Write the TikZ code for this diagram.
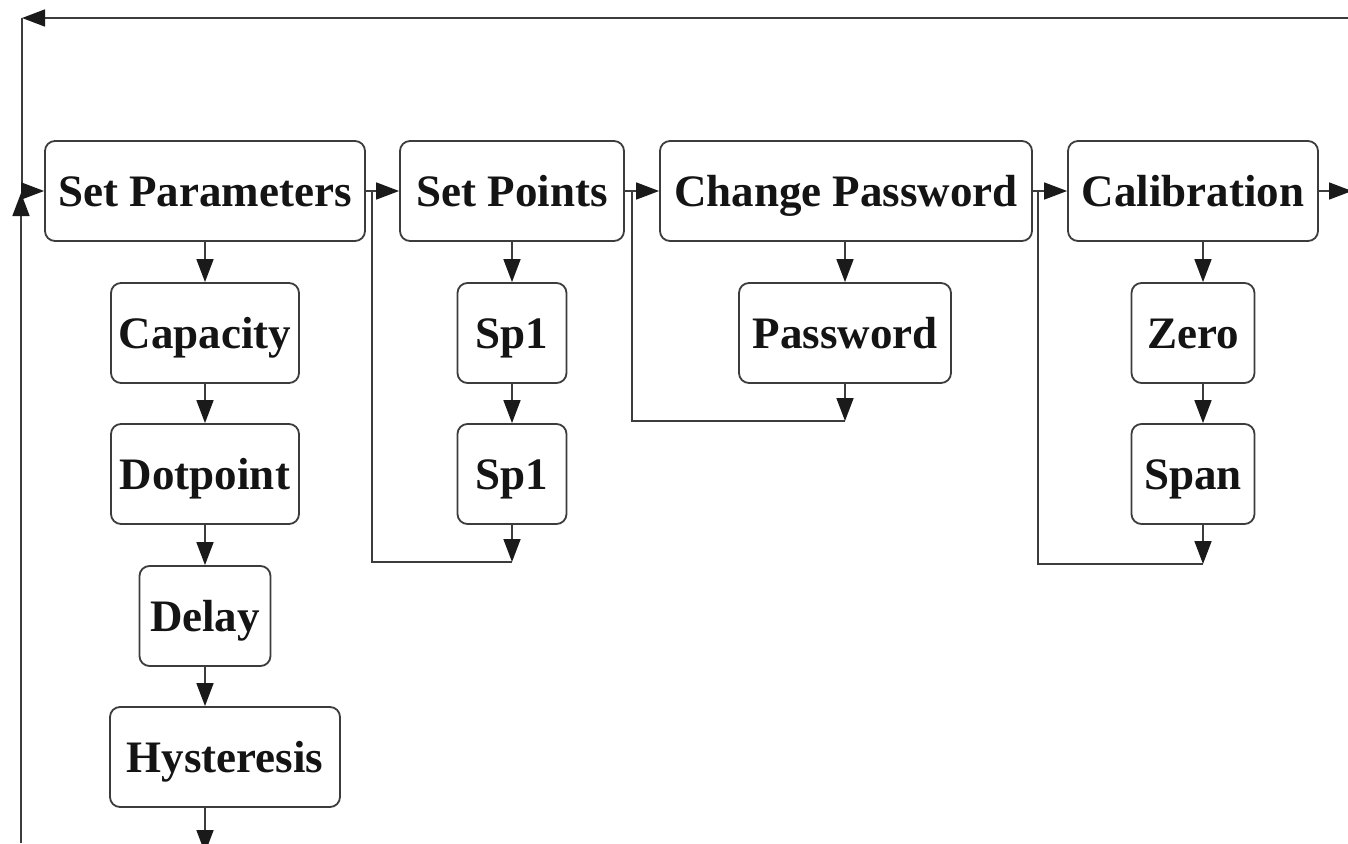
\documentclass[tikz,border=0pt]{standalone}
\usepackage{fontspec}
\setmainfont{Liberation Serif}
\usetikzlibrary{arrows.meta}
\definecolor{lncol}{HTML}{3C3C3C}
\definecolor{txcol}{HTML}{141414}
\definecolor{tipcol}{HTML}{1A1A1A}
\tikzset{
  box/.style={draw=lncol, line width=1.8pt, rounded corners=10pt, inner sep=0pt,
    text height=30pt, text depth=0pt, text=txcol,
    font=\fontsize{45pt}{54pt}\selectfont\bfseries, minimum height=100pt},
  wire/.style={draw=lncol, line width=1.6pt},
  arr/.style={wire, -{Triangle[length=23pt,width=17pt,color=tipcol]}},
}
\begin{document}
\begin{tikzpicture}[x=1pt,y=-1pt]
\fill[white] (0,0) rectangle (1348,843);
\useasboundingbox (0,0) rectangle (1348,843);
\clip (0,0) rectangle (1348,843);

% top row
\node[box, minimum width=320pt] (sp)  at (205,191)  {Set Parameters};
\node[box, minimum width=224pt] (spt) at (512,191)  {Set Points};
\node[box, minimum width=372pt] (cp)  at (846,191)  {Change Password};
\node[box, minimum width=250pt] (cal) at (1193,191) {Calibration};

% column 1
\node[box, minimum width=188pt] (capa) at (205,333) {Capacity};
\node[box, minimum width=188pt] (dot)  at (205,474) {Dotpoint};
\node[box, minimum width=131pt] (dly)  at (205,616) {Delay};
\node[box, minimum width=230pt] (hys)  at (225,757) {Hysteresis};

% column 2
\node[box, minimum width=109pt] (spa) at (512,333) {Sp1};
\node[box, minimum width=109pt] (spb) at (512,474) {Sp1};

% column 3
\node[box, minimum width=212pt] (pw) at (845,333) {Password};

% column 4
\node[box, minimum width=123pt] (zero) at (1193,333) {Zero};
\node[box, minimum width=123pt] (span) at (1193,474) {Span};

% helper coordinates
\coordinate (b1a) at (372,191);
\coordinate (b1b) at (512,562);
\coordinate (b2a) at (632,191);
\coordinate (b2b) at (845,421);
\coordinate (b3a) at (1038,191);
\coordinate (b3b) at (1203,564);
\coordinate (calout) at (1352,191);
\coordinate (hysout) at (205,853);
\coordinate (topR) at (1348,18);
\coordinate (topL) at (22,18);
\coordinate (midL) at (22,191);
\coordinate (botL) at (21,843);
\coordinate (upTip) at (21,193);
\coordinate (c4) at (1203,191);

% horizontal flow
\draw[arr] (sp.east) -- (spt.west);
\draw[arr] (spt.east) -- (cp.west);
\draw[arr] (cp.east) -- (cal.west);
\draw[arr] (cal.east) -- (calout);

% bypass lines
\draw[wire] (b1a) |- (b1b);
\draw[wire] (b2a) |- (b2b);
\draw[wire] (b3a) |- (b3b);

% column 1 arrows
\draw[arr] (sp.south) -- (capa.north);
\draw[arr] (capa.south) -- (dot.north);
\draw[arr] (dot.south) -- (dly.north);
\draw[arr] (dly.south) -- (hys.north -| dly.south);
\draw[arr] (hys.south -| hysout) -- (hysout);

% column 2 arrows
\draw[arr] (spt.south) -- (spa.north);
\draw[arr] (spa.south) -- (spb.north);
\draw[arr] (spb.south) -- (b1b);

% column 3 arrows
\draw[arr] (cp.south -| pw.north) -- (pw.north);
\draw[arr] (pw.south) -- (b2b);

% column 4 arrows
\draw[arr] (cal.south -| c4) -- (zero.north -| c4);
\draw[arr] (zero.south -| c4) -- (span.north -| c4);
\draw[arr] (span.south -| c4) -- (b3b);

% return loop
\draw[arr] (topR) -- (topL);
\draw[wire] (topL) -- (midL);
\draw[arr] (midL) -- (sp.west);
\draw[arr] (botL) -- (upTip);
\end{tikzpicture}
\end{document}
